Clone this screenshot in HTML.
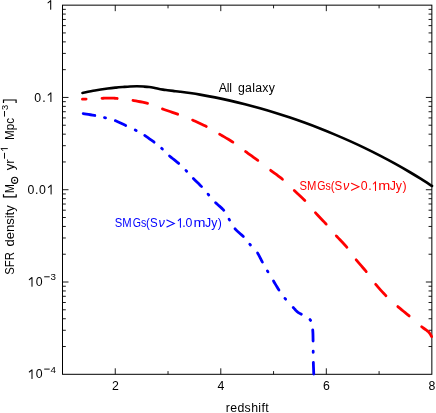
<!DOCTYPE html>
<html><head><meta charset="utf-8"><title>SFR density</title>
<style>html,body{margin:0;padding:0;background:#fff;}svg{display:block;will-change:transform;}text{font-family:"Liberation Sans",sans-serif;}</style></head>
<body>
<svg width="436" height="413" viewBox="0 0 436 413">
<rect x="0" y="0" width="436" height="413" fill="#ffffff"/>
<path d="M115.26 374.3 V368.30 M115.26 5.15 V11.15 M168.03 374.3 V371.10 M168.03 5.15 V8.35 M220.79 374.3 V368.30 M220.79 5.15 V11.15 M273.56 374.3 V371.10 M273.56 5.15 V8.35 M326.32 374.3 V368.30 M326.32 5.15 V11.15 M379.09 374.3 V371.10 M379.09 5.15 V8.35 M62.5 97.44 H68.50 M431.85 97.44 H425.85 M62.5 69.66 H65.80 M431.85 69.66 H428.55 M62.5 53.41 H65.80 M431.85 53.41 H428.55 M62.5 41.87 H65.80 M431.85 41.87 H428.55 M62.5 32.93 H65.80 M431.85 32.93 H428.55 M62.5 25.62 H65.80 M431.85 25.62 H428.55 M62.5 19.45 H65.80 M431.85 19.45 H428.55 M62.5 14.09 H65.80 M431.85 14.09 H428.55 M62.5 9.37 H65.80 M431.85 9.37 H428.55 M62.5 189.73 H68.50 M431.85 189.73 H425.85 M62.5 161.94 H65.80 M431.85 161.94 H428.55 M62.5 145.69 H65.80 M431.85 145.69 H428.55 M62.5 134.16 H65.80 M431.85 134.16 H428.55 M62.5 125.22 H65.80 M431.85 125.22 H428.55 M62.5 117.91 H65.80 M431.85 117.91 H428.55 M62.5 111.73 H65.80 M431.85 111.73 H428.55 M62.5 106.38 H65.80 M431.85 106.38 H428.55 M62.5 101.66 H65.80 M431.85 101.66 H428.55 M62.5 282.01 H68.50 M431.85 282.01 H425.85 M62.5 254.23 H65.80 M431.85 254.23 H428.55 M62.5 237.98 H65.80 M431.85 237.98 H428.55 M62.5 226.45 H65.80 M431.85 226.45 H428.55 M62.5 217.51 H65.80 M431.85 217.51 H428.55 M62.5 210.20 H65.80 M431.85 210.20 H428.55 M62.5 204.02 H65.80 M431.85 204.02 H428.55 M62.5 198.67 H65.80 M431.85 198.67 H428.55 M62.5 193.95 H65.80 M431.85 193.95 H428.55 M62.5 346.52 H65.80 M431.85 346.52 H428.55 M62.5 330.27 H65.80 M431.85 330.27 H428.55 M62.5 318.74 H65.80 M431.85 318.74 H428.55 M62.5 309.79 H65.80 M431.85 309.79 H428.55 M62.5 302.49 H65.80 M431.85 302.49 H428.55 M62.5 296.31 H65.80 M431.85 296.31 H428.55 M62.5 290.96 H65.80 M431.85 290.96 H428.55 M62.5 286.24 H65.80 M431.85 286.24 H428.55" stroke="#000" stroke-width="0.9" fill="none"/>
<rect x="62.5" y="5.15" width="369.35" height="369.15000000000003" fill="none" stroke="#000" stroke-width="1"/>
<path d="M82.50 93.00 C84.58 92.58 90.78 91.24 95.00 90.50 C99.22 89.76 104.30 89.03 107.80 88.55 C111.30 88.07 113.47 87.86 116.00 87.60 C118.53 87.34 120.67 87.18 123.00 87.00 C125.33 86.82 127.67 86.62 130.00 86.50 C132.33 86.38 134.70 86.29 137.00 86.30 C139.30 86.31 141.77 86.44 143.80 86.55 C145.83 86.66 147.53 86.75 149.20 86.95 C150.87 87.15 152.28 87.44 153.80 87.75 C155.32 88.06 156.77 88.49 158.30 88.80 C159.83 89.11 161.47 89.37 163.00 89.60 C164.53 89.83 165.83 89.98 167.50 90.20 C169.17 90.42 170.92 90.65 173.00 90.90 C175.08 91.15 177.17 91.35 180.00 91.70 C182.83 92.05 186.67 92.52 190.00 93.00 C193.33 93.48 195.83 93.84 200.00 94.57 C204.17 95.30 210.00 96.36 215.00 97.36 C220.00 98.36 225.00 99.45 230.00 100.59 C235.00 101.73 240.00 102.95 245.00 104.23 C250.00 105.51 255.00 106.86 260.00 108.28 C265.00 109.70 270.00 111.18 275.00 112.73 C280.00 114.28 285.00 115.89 290.00 117.58 C295.00 119.27 300.00 121.02 305.00 122.84 C310.00 124.66 315.00 126.55 320.00 128.51 C325.00 130.47 330.00 132.50 335.00 134.60 C340.00 136.70 345.00 138.87 350.00 141.13 C355.00 143.39 360.00 145.72 365.00 148.14 C370.00 150.56 375.00 153.05 380.00 155.64 C385.00 158.23 390.00 160.90 395.00 163.67 C400.00 166.44 405.67 169.71 410.00 172.26 C414.33 174.81 417.33 176.65 421.00 178.94 C424.67 181.23 430.17 184.81 432.00 185.98" stroke="#000" stroke-width="2.65" fill="none" stroke-linecap="round" stroke-linejoin="round"/>
<path d="M82.40 99.17 L82.72 99.16 L83.41 99.14 L84.20 99.11 L85.11 99.08 L86.10 99.05 M102.00 98.34 L102.13 98.34 L103.35 98.27 L104.48 98.21 L105.55 98.15 L106.58 98.10 L107.60 98.07 L108.63 98.05 L109.70 98.05 L110.76 98.07 L111.78 98.10 L112.77 98.14 L113.77 98.20 L114.80 98.27 L115.90 98.36 L117.09 98.47 L117.21 98.48 M132.98 100.49 L133.77 100.62 L135.88 100.97 L138.07 101.35 L140.30 101.75 L142.52 102.17 L144.70 102.62 L146.77 103.10 L147.54 103.30 M162.43 108.91 L163.29 109.21 L165.44 109.97 L167.71 110.75 L170.04 111.54 L172.37 112.34 L174.65 113.12 L176.81 113.88 L177.67 114.19 M192.60 120.08 L193.37 120.42 L195.36 121.30 L197.43 122.23 L199.54 123.20 L201.64 124.18 L203.68 125.15 L205.62 126.10 L206.33 126.46 M219.63 134.21 L220.35 134.63 L222.24 135.75 L224.24 136.91 L226.28 138.11 L228.32 139.32 L230.30 140.52 L232.18 141.69 L232.89 142.15 M245.57 151.51 L246.23 151.99 L247.98 153.26 L249.81 154.57 L251.69 155.92 L253.56 157.27 L255.40 158.60 L257.16 159.88 L257.84 160.39 M270.66 170.32 L271.30 170.81 L273.01 172.08 L274.80 173.39 L276.61 174.73 L278.41 176.07 L280.17 177.40 L281.85 178.72 L282.47 179.24 M294.27 190.53 L294.85 191.08 L296.39 192.51 L297.99 194.00 L299.62 195.51 L301.24 197.02 L302.81 198.52 L304.31 199.99 L304.86 200.54 M315.41 212.68 L316.01 213.34 L317.55 214.98 L319.17 216.69 L320.83 218.43 L322.48 220.16 L324.09 221.86 L325.61 223.48 L326.19 224.11 M336.31 235.89 L336.88 236.51 L338.40 238.13 L340.00 239.83 L341.65 241.56 L343.29 243.29 L344.88 245.00 L346.37 246.65 L346.92 247.29 M356.16 259.83 L356.69 260.48 L358.11 262.16 L359.63 263.91 L361.19 265.69 L362.75 267.47 L364.27 269.22 L365.70 270.91 L366.24 271.57 M375.67 284.32 L376.21 284.97 L377.64 286.63 L379.15 288.36 L380.71 290.11 L382.29 291.84 L383.86 293.53 L385.37 295.13 L385.96 295.74 M397.81 306.58 L398.42 307.09 L400.04 308.44 L401.74 309.83 L403.47 311.24 L405.20 312.65 L406.91 314.05 L408.55 315.40 L409.18 315.93 M421.64 326.75 L421.85 326.91 L422.97 327.74 L424.05 328.50 L425.09 329.23 L426.07 329.92 L426.99 330.60 L427.84 331.29 L428.60 332.00 L429.28 332.77 L429.89 333.58 L430.42 334.41 L430.89 335.22 L431.30 335.99 L431.63 336.64" stroke="#ff0000" stroke-width="2.8" fill="none" stroke-linecap="round" stroke-linejoin="round"/>
<path d="M83.18 113.59 L84.63 113.82 L86.44 114.10 L88.44 114.42 L90.50 114.75 L92.52 115.09 L94.39 115.41 L94.82 115.48 M115.31 120.64 L115.64 120.77 L117.20 121.45 L118.84 122.19 L120.52 122.98 L122.20 123.79 L123.83 124.58 L125.38 125.32 L125.72 125.48 M144.70 135.46 L144.99 135.66 L146.42 136.63 L147.92 137.67 L149.47 138.77 L151.01 139.87 L152.49 140.95 L153.87 141.97 L154.14 142.18 M169.51 155.98 L169.79 156.22 L171.14 157.33 L172.59 158.50 L174.09 159.69 L175.60 160.89 L177.05 162.06 L178.40 163.17 L178.69 163.42 M193.34 178.46 L193.59 178.71 L194.81 179.92 L196.11 181.21 L197.46 182.53 L198.81 183.86 L200.11 185.15 L201.32 186.38 L201.57 186.63 M215.56 202.64 L215.80 202.88 L217.04 204.02 L218.38 205.21 L219.75 206.42 L221.11 207.65 L222.41 208.87 L223.59 210.06 L223.80 210.30 M235.00 228.79 L235.23 229.05 L236.44 230.24 L237.76 231.48 L239.14 232.72 L240.53 233.95 L241.87 235.16 L243.11 236.31 L243.35 236.55 M257.55 253.01 L257.71 253.24 L258.51 254.60 L259.30 256.05 L260.08 257.55 L260.85 259.05 L261.59 260.52 L262.31 261.92 L262.43 262.14 M273.52 281.03 L273.67 281.29 L274.49 282.68 L275.35 284.13 L276.22 285.61 L277.09 287.08 L277.96 288.51 L278.80 289.86 L278.95 290.09 M293.21 307.48 L293.82 308.16 L294.47 308.88 L295.09 309.56 L295.69 310.20 L296.29 310.80 L296.89 311.37 L297.50 311.90 L298.10 312.36 L298.67 312.74 L299.22 313.06 L299.78 313.36 L300.35 313.65 L300.97 313.97 L301.37 314.19 M312.72 329.99 L312.75 330.28 L312.86 331.92 L312.94 333.66 L312.99 335.45 L313.02 337.25 L313.05 339.01 L313.07 340.68 L313.08 341.00 M313.33 362.40 L313.35 362.83 L313.41 364.70 L313.48 366.73 L313.56 368.79 L313.63 370.77 L313.70 372.58 L313.76 374.00 M104.47 117.67 L105.53 117.93 M135.21 130.05 L136.19 130.55 M161.59 148.33 L162.41 149.07 M185.92 170.40 L186.68 171.20 M208.04 194.18 L208.76 195.02 M229.03 219.12 L229.57 220.08 M249.74 244.19 L250.46 245.01 M267.42 270.93 L267.98 271.87 M284.95 298.38 L285.65 299.22 M309.98 319.56 L310.62 320.44 M313.19 351.25 L313.21 352.35" stroke="#0000ff" stroke-width="2.8" fill="none" stroke-linecap="round" stroke-linejoin="round"/>
<text x="115.3" y="390.3" font-size="12.3" text-anchor="middle" fill="#000">2</text>
<text x="220.8" y="390.3" font-size="12.3" text-anchor="middle" fill="#000">4</text>
<text x="326.3" y="390.3" font-size="12.3" text-anchor="middle" fill="#000">6</text>
<text x="431.9" y="390.3" font-size="12.3" text-anchor="middle" fill="#000">8</text>
<text x="225.7" y="412" font-size="12.3" text-anchor="start" fill="#000" textLength="43" lengthAdjust="spacing">redshift</text>
<path d="M48.00 2.80 L50.70 0.60 V9.30" stroke="#000" stroke-width="1.05" fill="none" stroke-linejoin="round" stroke-linecap="round"/>
<text x="34.3" y="101.54" font-size="12.3" fill="#000">0</text><text x="42.3" y="101.54" font-size="12.3" fill="#000">.</text><path d="M48.20 95.09 L50.90 92.89 V101.59" stroke="#000" stroke-width="1.05" fill="none" stroke-linejoin="round" stroke-linecap="round"/>
<text x="27.5" y="193.83" font-size="12.3" fill="#000">0</text><text x="35.0" y="193.83" font-size="12.3" fill="#000">.</text><text x="39.1" y="193.83" font-size="12.3" fill="#000">0</text><path d="M48.40 187.38 L51.10 185.18 V193.88" stroke="#000" stroke-width="1.05" fill="none" stroke-linejoin="round" stroke-linecap="round"/>
<path d="M29.30 279.71 L32.00 277.51 V286.21" stroke="#000" stroke-width="1.05" fill="none" stroke-linejoin="round" stroke-linecap="round"/><text x="35.7" y="286.16" font-size="12.3" fill="#000">0</text>
<path d="M44.2 276.8 H49.7" stroke="#000" stroke-width="0.95"/>
<text x="50.6" y="280.46" font-size="9.8" text-anchor="start" fill="#000">3</text>
<path d="M29.30 372.00 L32.00 369.80 V378.50" stroke="#000" stroke-width="1.05" fill="none" stroke-linejoin="round" stroke-linecap="round"/><text x="35.7" y="378.45" font-size="12.3" fill="#000">0</text>
<path d="M44.2 369.1 H49.7" stroke="#000" stroke-width="0.95"/>
<text x="50.6" y="372.75" font-size="9.8" text-anchor="start" fill="#000">4</text>
<text x="218.7" y="92" font-size="12.3" text-anchor="start" fill="#000" textLength="13.2" lengthAdjust="spacing">All</text>
<text x="238.0" y="92" font-size="12.3" text-anchor="start" fill="#000" textLength="36.8" lengthAdjust="spacing">galaxy</text>
<text x="299.45" y="190.45" font-size="12.3" fill="#ff0000" textLength="16.9" lengthAdjust="spacingAndGlyphs">SM</text><text x="317.35" y="190.45" font-size="12.3" fill="#ff0000" textLength="13.5" lengthAdjust="spacingAndGlyphs">Gs</text><text x="330.75" y="190.45" font-size="12.3" fill="#ff0000" textLength="11.5" lengthAdjust="spacingAndGlyphs">(S</text><text x="343.05" y="190.45" font-size="12.3" fill="#ff0000" textLength="6.3" lengthAdjust="spacingAndGlyphs" font-style="italic">ν</text><path d="M351.45 183.30 L358.95 186.75 L351.45 190.20" stroke="#ff0000" stroke-width="1.05" fill="none" stroke-linejoin="miter" stroke-linecap="round"/><text x="360.70" y="190.45" font-size="12.3" fill="#ff0000">0</text><text x="368.30" y="190.45" font-size="12.3" fill="#ff0000">.</text><path d="M373.30 184.00 L375.50 181.80 V190.50" stroke="#ff0000" stroke-width="1.05" fill="none" stroke-linejoin="round" stroke-linecap="round"/><text x="378.25" y="190.45" font-size="12.3" fill="#ff0000" textLength="12.0" lengthAdjust="spacingAndGlyphs">m</text><text x="389.65" y="190.45" font-size="12.3" fill="#ff0000">Jy</text><text x="402.45" y="190.45" font-size="12.3" fill="#ff0000">)</text>
<text x="114.80" y="227.15" font-size="12.3" fill="#0000ff" textLength="16.9" lengthAdjust="spacingAndGlyphs">SM</text><text x="132.70" y="227.15" font-size="12.3" fill="#0000ff" textLength="13.5" lengthAdjust="spacingAndGlyphs">Gs</text><text x="146.10" y="227.15" font-size="12.3" fill="#0000ff" textLength="11.5" lengthAdjust="spacingAndGlyphs">(S</text><text x="158.40" y="227.15" font-size="12.3" fill="#0000ff" textLength="6.3" lengthAdjust="spacingAndGlyphs" font-style="italic">ν</text><path d="M166.80 220.00 L174.30 223.45 L166.80 226.90" stroke="#0000ff" stroke-width="1.05" fill="none" stroke-linejoin="miter" stroke-linecap="round"/><path d="M178.20 220.70 L180.40 218.50 V227.20" stroke="#0000ff" stroke-width="1.05" fill="none" stroke-linejoin="round" stroke-linecap="round"/><text x="182.20" y="227.15" font-size="12.3" fill="#0000ff">.</text><text x="185.60" y="227.15" font-size="12.3" fill="#0000ff">0</text><text x="193.60" y="227.15" font-size="12.3" fill="#0000ff" textLength="12.0" lengthAdjust="spacingAndGlyphs">m</text><text x="205.00" y="227.15" font-size="12.3" fill="#0000ff">Jy</text><text x="217.80" y="227.15" font-size="12.3" fill="#0000ff">)</text>
<text transform="translate(13.6,274.8) rotate(-90)" font-size="12.3" textLength="22.6" lengthAdjust="spacingAndGlyphs">SFR</text>
<text transform="translate(13.6,246.6) rotate(-90)" font-size="12.3" textLength="41.3" lengthAdjust="spacingAndGlyphs">density</text>
<path d="M3.5 194.2 V196.8 H16.2 V194.2 M3.5 103 V100 H16.1 V103" stroke="#000" stroke-width="1.2" fill="none"/>
<text transform="translate(13.6,193.0) rotate(-90)" font-size="12.3" textLength="8.8" lengthAdjust="spacingAndGlyphs">M</text>
<circle cx="14.65" cy="180.3" r="3.05" fill="none" stroke="#000" stroke-width="1.1"/><circle cx="14.65" cy="180.3" r="0.9" fill="#000"/>
<text transform="translate(13.6,170.3) rotate(-90)" font-size="12.3" textLength="11.0" lengthAdjust="spacingAndGlyphs">yr</text>
<path d="M4.5 158.7 V152.8 M4.5 116.6 V111.0" stroke="#000" stroke-width="0.95"/>
<path d="M2.7 150.5 L1.0 148.6 H7.4" stroke="#000" stroke-width="0.95" fill="none" stroke-linejoin="round" stroke-linecap="round"/>
<text transform="translate(13.6,139.9) rotate(-90)" font-size="12.3" textLength="22.0" lengthAdjust="spacingAndGlyphs">Mpc</text>
<text transform="translate(7.6,110.1) rotate(-90)" font-size="9.3">3</text>
</svg></body></html>
